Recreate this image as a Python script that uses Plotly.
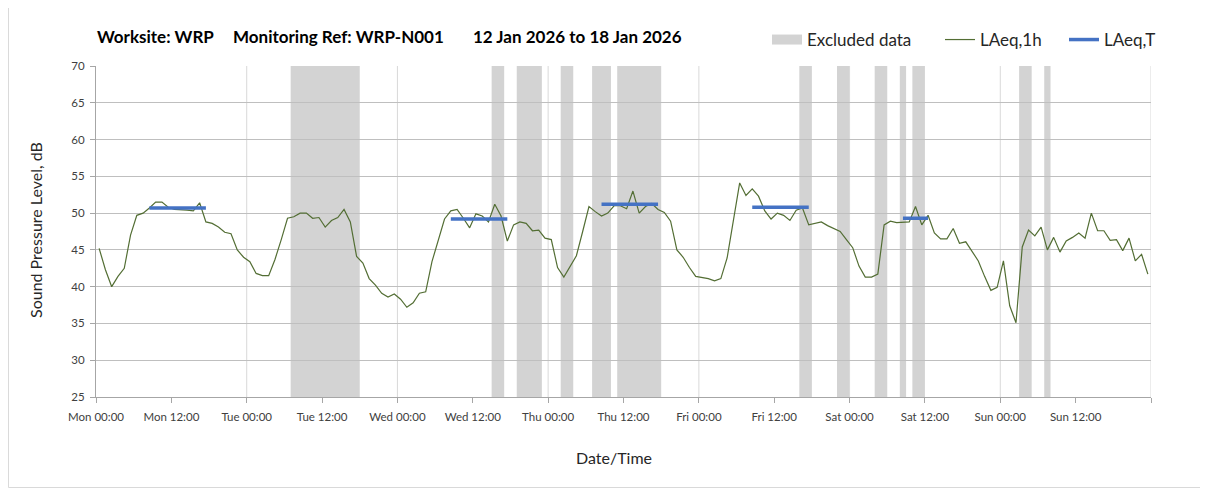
import pandas as pd
import plotly.graph_objects as go

# ---------------- data ----------------
start_time = "2026-01-12 00:30"   # hourly LAeq,1h values plotted at mid-hour
mon = [45.2, 42.3, 40.0, 41.4, 42.5, 47.0, 49.7, 50.0, 50.7, 51.5, 51.5, 50.8,
       50.5, 50.5, 50.4, 50.3, 51.4, 48.8, 48.6, 48.1, 47.4, 47.2, 45.0, 44.0]
tue = [43.4, 41.8, 41.5, 41.5, 43.7, 46.4, 49.3, 49.5, 50.0, 50.0, 49.3, 49.4,
       48.1, 49.0, 49.4, 50.5, 48.8, 44.1, 43.2, 41.1, 40.2, 39.1, 38.6, 39.0]
wed = [38.3, 37.2, 37.8, 39.1, 39.3, 43.4, 46.4, 49.2, 50.3, 50.5, 49.3, 48.0,
       49.9, 49.6, 48.8, 51.2, 49.6, 46.2, 48.4, 48.8, 48.6, 47.6, 47.7, 46.6]
thu = [46.4, 42.6, 41.3, 42.8, 44.2, 47.5, 50.9, 50.2, 49.6, 50.0, 51.0, 51.0,
       50.6, 53.0, 50.0, 50.9, 51.3, 50.5, 50.1, 48.9, 45.0, 44.0, 42.6, 41.4]
fri = [41.3, 41.1, 40.8, 41.1, 43.9, 49.0, 54.1, 52.4, 53.3, 52.3, 50.3, 49.2,
       50.0, 49.7, 49.0, 50.4, 50.7, 48.4, 48.6, 48.8, 48.3, 47.9, 47.5, 46.4]
sat = [45.3, 42.8, 41.3, 41.3, 41.7, 48.4, 48.9, 48.7, 48.8, 48.8, 50.9, 48.4,
       49.7, 47.3, 46.5, 46.5, 47.9, 45.9, 46.1, 44.8, 43.5, 41.4, 39.5, 39.9]
sun = [43.5, 37.4, 35.1, 45.4, 47.7, 46.9, 48.1, 45.0, 46.7, 44.7, 46.2, 46.7,
       47.3, 46.6, 50.0, 47.6, 47.6, 46.3, 46.4, 44.9, 46.6, 43.5, 44.4, 41.7]

excluded_start = ["2026-01-13 07:00", "2026-01-14 15:00", "2026-01-14 19:00",
                  "2026-01-15 02:00", "2026-01-15 07:00", "2026-01-15 11:00",
                  "2026-01-16 16:00", "2026-01-16 22:00", "2026-01-17 04:00",
                  "2026-01-17 08:00", "2026-01-17 10:00", "2026-01-18 03:00",
                  "2026-01-18 07:00"]
excluded_end = ["2026-01-13 18:00", "2026-01-14 17:00", "2026-01-14 23:00",
                "2026-01-15 04:00", "2026-01-15 10:00", "2026-01-15 18:00",
                "2026-01-16 18:00", "2026-01-17 00:00", "2026-01-17 06:00",
                "2026-01-17 09:00", "2026-01-17 12:00", "2026-01-18 05:00",
                "2026-01-18 08:00"]

laeq_t_start = ["2026-01-12 08:30", "2026-01-14 08:30", "2026-01-15 08:30",
                "2026-01-16 08:30", "2026-01-17 08:30"]
laeq_t_end = ["2026-01-12 17:30", "2026-01-14 17:30", "2026-01-15 17:30",
              "2026-01-16 17:30", "2026-01-17 12:30"]
laeq_t = [50.7, 49.2, 51.2, 50.8, 49.3]

x_range = ["2026-01-12 00:00", "2026-01-19 00:00"]
title_parts = ["Worksite: WRP", "Monitoring Ref: WRP-N001", "12 Jan 2026 to 18 Jan 2026"]

# ---------------- layout geometry ----------------
W, H = 1208, 492
OFF = 8                      # page body margin in the browser
ML, MT = 88, 58
PW, PH = 1054.7, 331
MR, MB = W - ML - PW, H - MT - PH


def px(xs):  # screen x -> paper
    return (xs - OFF - ML) / PW


def py(ys):  # screen y -> paper
    return (MT + PH - (ys - OFF)) / PH


laeq_1h = mon + tue + wed + thu + fri + sat + sun
times = pd.date_range(start_time, periods=len(laeq_1h), freq="h")

tick_vals = pd.date_range(x_range[0], x_range[1], freq="12h")
tick_text = [t.strftime("%a %H:%M") for t in tick_vals[:-1]] + [""]

FONT = "Lato"
LEG_FONT = dict(family=FONT, size=17, color="#262626")
fig = go.Figure()

# legend entry for excluded periods (bands drawn as shapes below the grid)
fig.add_trace(go.Scatter(x=[None], y=[None], mode="lines", name="Excluded data",
                         line=dict(color="#d3d3d3", width=12), hoverinfo="skip",
                         legend="legend"))

fig.add_trace(go.Scatter(x=times, y=laeq_1h, mode="lines", name="LAeq,1h",
                         line=dict(color="#536E34", width=1.2), legend="legend2"))

tx, ty = [], []
for s, e, v in zip(laeq_t_start, laeq_t_end, laeq_t):
    tx += [s, e, None]
    ty += [v, v, None]
fig.add_trace(go.Scatter(x=tx, y=ty, mode="lines", name="LAeq,T",
                         line=dict(color="#4472C4", width=3.5), legend="legend3"))

shapes = []
for s, e in zip(excluded_start, excluded_end):
    shapes.append(dict(type="rect", xref="x", yref="paper", x0=s, x1=e, y0=0, y1=1,
                       fillcolor="#d3d3d3", line=dict(width=0), layer="below"))
for d in pd.date_range(x_range[0], x_range[1], freq="D")[1:]:
    shapes.append(dict(type="line", xref="x", yref="paper", x0=d, x1=d, y0=0, y1=1,
                       line=dict(color="#d9d9d9", width=1), layer="below"))
# outer chart border
shapes.append(dict(type="rect", xref="paper", yref="paper",
                   x0=px(8.5), x1=px(1202.5), y0=py(487.5), y1=py(-2),
                   line=dict(color="#d9d9d9", width=1), fillcolor="rgba(0,0,0,0)",
                   layer="above"))

annotations = []
for text, xpos in zip(title_parts, [95, 231, 471]):
    annotations.append(dict(text="<b>%s</b>" % text, xref="paper", yref="paper",
                            x=px(xpos), y=py(37), xanchor="left", yanchor="middle",
                            showarrow=False, font=dict(family=FONT, size=17, color="#000000")))
annotations.append(dict(text="Sound Pressure Level, dB", xref="paper", yref="paper",
                        x=px(35), y=py(230), textangle=-90, xanchor="center",
                        yanchor="middle", showarrow=False,
                        font=dict(family=FONT, size=16, color="#262626")))
annotations.append(dict(text="Date/Time", xref="paper", yref="paper",
                        x=px(614), y=py(457), xanchor="center", yanchor="middle",
                        showarrow=False, font=dict(family=FONT, size=16, color="#262626")))


def leg(xs):
    return dict(orientation="h", xref="container", yref="container",
                x=(xs - OFF) / W, y=1 - (40 - OFF) / H, xanchor="left", yanchor="middle",
                font=LEG_FONT, bgcolor="rgba(0,0,0,0)", itemwidth=30)


fig.update_layout(
    width=W, height=H,
    margin=dict(l=ML, r=MR, t=MT, b=MB, pad=0, autoexpand=False),
    paper_bgcolor="white", plot_bgcolor="white",
    font=dict(family=FONT, size=12, color="#404040"),
    showlegend=True,
    legend=leg(767), legend2=leg(940), legend3=leg(1064),
    shapes=shapes,
    annotations=annotations,
    xaxis=dict(type="date", range=x_range, tickmode="array",
               tickvals=list(tick_vals), ticktext=tick_text,
               showgrid=False, zeroline=False, showline=True, linecolor="#a6a6a6",
               linewidth=1, ticks="outside", ticklen=5, tickcolor="#a6a6a6",
               ticklabelstandoff=4,
               tickfont=dict(family=FONT, size=11.5, color="#404040")),
    yaxis=dict(range=[25, 70], tickmode="linear", tick0=25, dtick=5,
               showgrid=True, gridcolor="#bfbfbf", gridwidth=1, zeroline=False,
               showline=True, linecolor="#a6a6a6", linewidth=1,
               ticks="outside", ticklen=5, tickcolor="#a6a6a6",
               ticklabelstandoff=3,
               tickfont=dict(family=FONT, size=11.5, color="#404040")),
)

fig.write_html("out.html")
